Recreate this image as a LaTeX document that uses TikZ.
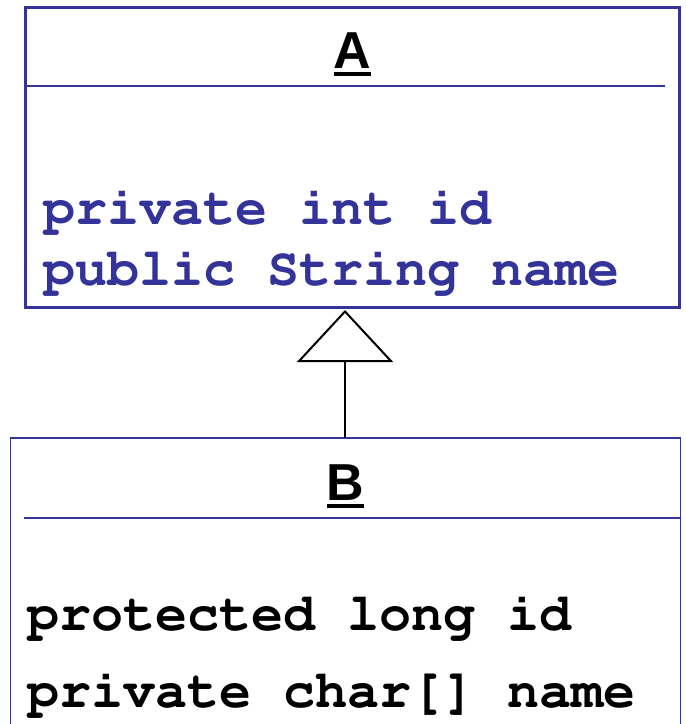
\documentclass[tikz,border=0pt]{standalone}
\usepackage[T1]{fontenc}
\usepackage{fontspec}
\setmainfont{Liberation Sans}
\usetikzlibrary{arrows.meta}

\definecolor{umlblue}{RGB}{51,51,153}

% Bold Courier for the attribute lines
\newcommand{\attrfont}{\fontencoding{T1}\fontfamily{pcr}\fontseries{b}\fontshape{n}\fontsize{53.4}{60}\selectfont}
% Class name: bold sans with a heavy underline
\newcommand{\clsname}[1]{\setbox0\hbox{\fontsize{52}{60}\selectfont\bfseries #1}%
  \rlap{\rule[-7.5pt]{\wd0}{3.2pt}}\box0}

\tikzset{
  classbox/.style={draw=umlblue, rectangle, inner sep=0pt},
  attr/.style={anchor=base west, inner sep=0pt, font=\attrfont},
  title/.style={anchor=base, inner sep=0pt},
}

\begin{document}
\begin{tikzpicture}[x=1pt,y=-1pt]
  \useasboundingbox (0,0) rectangle (686,724);

  % class A
  \node (A) [classbox, line width=3.4pt, minimum width=654pt, minimum height=300pt] at (352.5,157.5) {};
  \node (atitle) [title] at (352.5,68) {\clsname{A}};
  \draw[umlblue, line width=2.2pt] ([xshift=1.7pt]A.west |- 0,86) coordinate (asepl) -- (665,86) coordinate (asepr);
  \node (aid)   [attr, text=umlblue] at (43,224) {private int id};
  \node (aname) [attr, text=umlblue] at (43,285) {public String name};

  % class B
  \node (B) [classbox, line width=1.8pt, minimum width=670pt, minimum height=302pt] at (345.5,589) {};
  \node (btitle) [title] at (345.5,500) {\clsname{B}};
  \draw[umlblue, line width=1.8pt] (24,518) coordinate (bsepl) -- (B.east |- 0,518) coordinate (bsepr);
  \node (bid)   [attr] at (27,630) {protected long id};
  \node (bname) [attr] at (27,707) {private char[] name};

  % generalisation B -> A
  \coordinate (bt) at (345,438);
  \coordinate (at) at (345,310);
  \draw[line width=2.2pt, -{Triangle[open, length=52pt, width=96pt, line width=2pt]}] (bt) -- (at);
\end{tikzpicture}
\end{document}
